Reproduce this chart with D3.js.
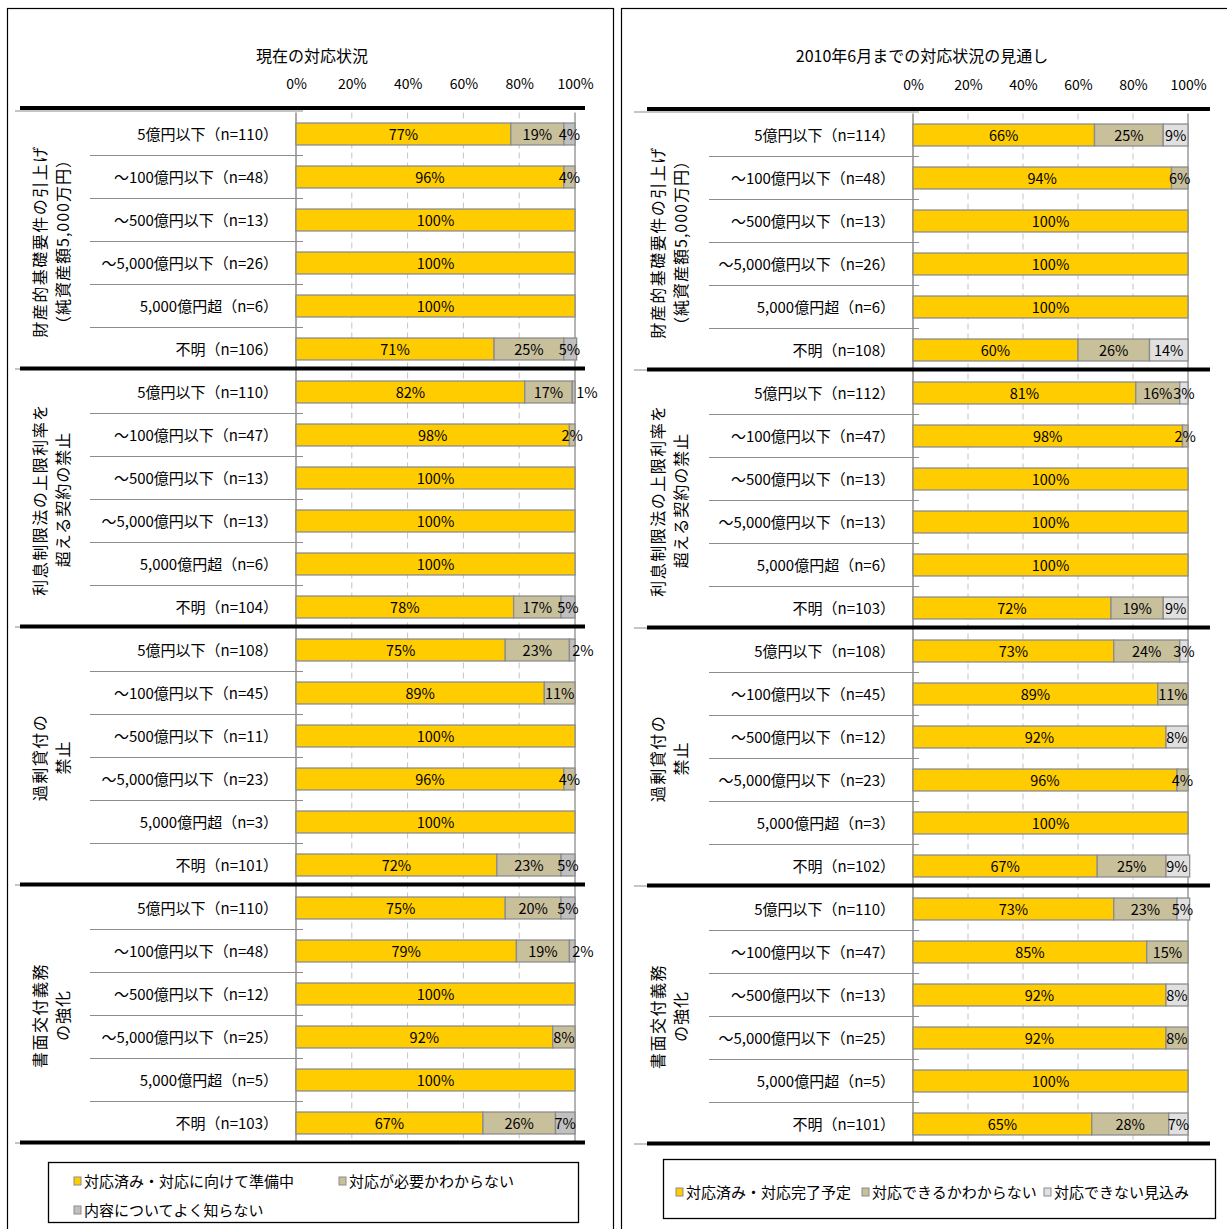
<!DOCTYPE html>
<html>
<head>
<meta charset="utf-8">
<script src="https://cdn.jsdelivr.net/npm/d3@7"></script>
<style>
  body { margin: 0; background: #fff; }
  svg { display: block; font-family: "Noto Sans CJK JP", "Noto Sans", sans-serif; }
</style>
</head>
<body>
<svg width="1227" height="1229"></svg>
<script>
// グループ名（縦書き2行）
const groupNames = [
    ["財産的基礎要件の引上げ", "（純資産額5,000万円）"],
    ["利息制限法の上限利率を", "超える契約の禁止"],
    ["過剰貸付の", "禁止"],
    ["書面交付義務", "の強化"]
];

// 左：現在の対応状況
const rowsLeft = [
    "5億円以下（n=110）", "～100億円以下（n=48）", "～500億円以下（n=13）", "～5,000億円以下（n=26）", "5,000億円超（n=6）", "不明（n=106）",
    "5億円以下（n=110）", "～100億円以下（n=47）", "～500億円以下（n=13）", "～5,000億円以下（n=13）", "5,000億円超（n=6）", "不明（n=104）",
    "5億円以下（n=108）", "～100億円以下（n=45）", "～500億円以下（n=11）", "～5,000億円以下（n=23）", "5,000億円超（n=3）", "不明（n=101）",
    "5億円以下（n=110）", "～100億円以下（n=48）", "～500億円以下（n=12）", "～5,000億円以下（n=25）", "5,000億円超（n=5）", "不明（n=103）"
];
const doneLeft    = [77, 96, 100, 100, 100, 71,  82, 98, 100, 100, 100, 78,  75, 89, 100, 96, 100, 72,  75, 79, 100, 92, 100, 67];
const unsureLeft  = [19,  4,   0,   0,   0, 25,  17,  2,   0,   0,   0, 17,  23, 11,   0,  4,   0, 23,  20, 19,   0,  8,   0, 26];
const unknownLeft = [ 4,  0,   0,   0,   0,  5,   1,  0,   0,   0,   0,  5,   2,  0,   0,  0,   0,  5,   5,  2,   0,  0,   0,  7];
const legendLeft = ["対応済み・対応に向けて準備中", "対応が必要かわからない", "内容についてよく知らない"];

// 右：2010年6月までの見通し
const rowsRight = [
    "5億円以下（n=114）", "～100億円以下（n=48）", "～500億円以下（n=13）", "～5,000億円以下（n=26）", "5,000億円超（n=6）", "不明（n=108）",
    "5億円以下（n=112）", "～100億円以下（n=47）", "～500億円以下（n=13）", "～5,000億円以下（n=13）", "5,000億円超（n=6）", "不明（n=103）",
    "5億円以下（n=108）", "～100億円以下（n=45）", "～500億円以下（n=12）", "～5,000億円以下（n=23）", "5,000億円超（n=3）", "不明（n=102）",
    "5億円以下（n=110）", "～100億円以下（n=47）", "～500億円以下（n=13）", "～5,000億円以下（n=25）", "5,000億円超（n=5）", "不明（n=101）"
];
const doneRight   = [66, 94, 100, 100, 100, 60,  81, 98, 100, 100, 100, 72,  73, 89, 92, 96, 100, 67,  73, 85, 92, 92, 100, 65];
const unsureRight = [25,  6,   0,   0,   0, 26,  16,  2,   0,   0,   0, 19,  24, 11,  0,  4,   0, 25,  23, 15,  0,  8,   0, 28];
const cannotRight = [ 9,  0,   0,   0,   0, 14,   3,  0,   0,   0,   0,  9,   3,  0,  8,  0,   0,  9,   5,  0,  8,  0,   0,  7];
const legendRight = ["対応済み・対応完了予定", "対応できるかわからない", "対応できない見込み"];

const ticks = [0, 20, 40, 60, 80, 100];

const svg = d3.select("svg");

function drawPanel(p) {
    const g = svg.append("g");

    // 枠
    g.append("rect")
        .attr("x", p.boxX).attr("y", 8.5)
        .attr("width", p.boxW).attr("height", 1240)
        .attr("fill", "none").attr("stroke", "#000").attr("stroke-width", 1.2);

    g.append("text")
        .attr("x", p.titleX).attr("y", 62)
        .attr("text-anchor", "middle")
        .attr("font-size", 16)
        .text(p.title);

    const x = d3.scaleLinear().domain([0, 100]).range(p.xRange);
    const y = d3.scaleBand()
        .domain(d3.range(p.rows.length))
        .range(p.yRange)
        .paddingInner(0.49).paddingOuter(0.245);
    const step = y.step();
    const top = p.yRange[0], bottom = p.yRange[1];

    // 目盛ラベル
    const axis = d3.axisTop(x).tickValues(ticks).tickFormat(d => d + "%").tickSize(0);
    const ax = g.append("g").attr("transform", `translate(0,${p.tickY})`).call(axis);
    ax.select(".domain").remove();
    ax.selectAll("text").attr("font-size", 14).attr("font-family", "'Noto Sans CJK JP'").attr("fill", "#000");

    // グリッド
    g.selectAll(".grid").data(ticks.slice(1, 5)).join("line")
        .attr("x1", d => x(d)).attr("x2", d => x(d))
        .attr("y1", top).attr("y2", bottom - 2)
        .attr("stroke", "#c4c4c4").attr("stroke-dasharray", "6,4");
    g.append("line")
        .attr("x1", x(100)).attr("x2", x(100)).attr("y1", top).attr("y2", bottom - 2)
        .attr("stroke", "#8c8c8c").attr("stroke-width", 1.3);

    // 行区切り線
    d3.range(p.rows.length + 1).forEach(i => {
        const yy = top + i * step - (i % 6 === 0 ? 1.5 : 0);
        g.append("line")
            .attr("x1", i % 6 === 0 ? p.sepOuterX : p.sepInnerX).attr("x2", p.sepEndX)
            .attr("y1", yy).attr("y2", yy)
            .attr("stroke", "#8c8c8c").attr("stroke-width", 1.2);
    });

    // 軸線
    g.append("line")
        .attr("x1", x(0)).attr("x2", x(0)).attr("y1", top).attr("y2", bottom - 2)
        .attr("stroke", "#8c8c8c").attr("stroke-width", 1.5);

    // 太線（グループ境界）
    d3.range(5).forEach(k => {
        const yy = top + k * 6 * step - (k === 0 ? 4.5 : 2);
        g.append("line")
            .attr("x1", p.thickX[0]).attr("x2", p.thickX[1])
            .attr("y1", yy).attr("y2", yy)
            .attr("stroke", "#000").attr("stroke-width", 4);
    });

    // 行ラベル
    g.selectAll(".rowlab").data(p.rows).join("text")
        .attr("x", p.labelX)
        .attr("y", (d, i) => y(i) + y.bandwidth() / 2)
        .attr("dy", "0.38em")
        .attr("text-anchor", "end")
        .attr("font-size", 15)
        .text(d => d);

    // グループ名（回転）
    groupNames.forEach((lines, k) => {
        const cy = top + (k * 6 + 3) * step;
        lines.forEach((t, j) => {
            g.append("text")
                .attr("transform", `translate(${p.groupX[j]},${cy}) rotate(-90)`)
                .attr("text-anchor", "middle")
                .attr("dy", "0.35em")
                .attr("font-size", 16)
                .attr("letter-spacing", j === 0 ? 1.5 : 1)
                .text(t);
        });
    });

    // 積み上げ棒
    const series = p.rows.map((r, i) => {
        const vals = [p.s1[i], p.s2[i], p.s3[i]];
        let acc = 0;
        return vals.map((v, k) => {
            const seg = { i, k, v, x0: acc, x1: acc + v };
            acc += v;
            return seg;
        }).filter(s => s.v > 0);
    }).flat();

    g.selectAll(".seg").data(series).join("rect")
        .attr("x", d => x(d.x0))
        .attr("y", d => y(d.i))
        .attr("width", d => x(Math.min(d.x1, 100.6)) - x(d.x0))
        .attr("height", y.bandwidth())
        .attr("fill", d => p.colors[d.k])
        .attr("stroke", "#8c8c8c").attr("stroke-width", 1.3);

    g.selectAll(".val").data(series).join("text")
        .attr("x", d => {
            if (d.k === 2 && d.v <= 2) return x(100) + (d.v === 1 ? 12 : 8);
            return (x(d.x0) + x(Math.min(d.x1, 100))) / 2;
        })
        .attr("y", d => y(d.i) + y.bandwidth() / 2)
        .attr("dy", "0.38em")
        .attr("text-anchor", "middle")
        .attr("font-size", 14.5)
        .text(d => d.v + "%");

    // 凡例
    g.append("rect")
        .attr("x", p.legBox[0]).attr("y", p.legBox[1])
        .attr("width", p.legBox[2]).attr("height", p.legBox[3])
        .attr("fill", "#fff").attr("stroke", "#000").attr("stroke-width", 1.3);
    p.legend.forEach((t, k) => {
        const [lx, ly] = p.legPos[k];
        g.append("rect")
            .attr("x", lx).attr("y", ly - 10)
            .attr("width", 7).attr("height", 8)
            .attr("fill", p.colors[k]).attr("stroke", "#8c8c8c").attr("stroke-width", 1);
        g.append("text")
            .attr("x", lx + 10).attr("y", ly)
            .attr("font-size", 15)
            .text(t);
    });
}

drawPanel({
    boxX: 7.5, boxW: 606,
    title: "現在の対応状況", titleX: 312,
    tickY: 92,
    xRange: [296, 575],
    yRange: [112.5, 1144.5],
    rows: rowsLeft, s1: doneLeft, s2: unsureLeft, s3: unknownLeft,
    colors: ["#ffcc00", "#c8bf9b", "#c0c0c0"],
    labelX: 278,
    groupX: [40, 63],
    sepOuterX: 15, sepInnerX: 90, sepEndX: 303,
    thickX: [20, 585],
    legend: legendLeft,
    legBox: [48.5, 1162.5, 530, 60],
    legPos: [[74, 1187], [339, 1187], [74, 1216]]
});

drawPanel({
    boxX: 621.5, boxW: 620,
    title: "2010年6月までの対応状況の見通し", titleX: 922,
    tickY: 93,
    xRange: [913, 1188],
    yRange: [113.5, 1145.5],
    rows: rowsRight, s1: doneRight, s2: unsureRight, s3: cannotRight,
    colors: ["#ffcc00", "#c8bf9b", "#e0e0e0"],
    labelX: 895,
    groupX: [658, 681],
    sepOuterX: 634, sepInnerX: 709, sepEndX: 919,
    thickX: [647, 1210],
    legend: legendRight,
    legBox: [663.5, 1159.5, 552, 59],
    legPos: [[676, 1198], [862, 1198], [1044, 1198]]
});
</script>
</body>
</html>
